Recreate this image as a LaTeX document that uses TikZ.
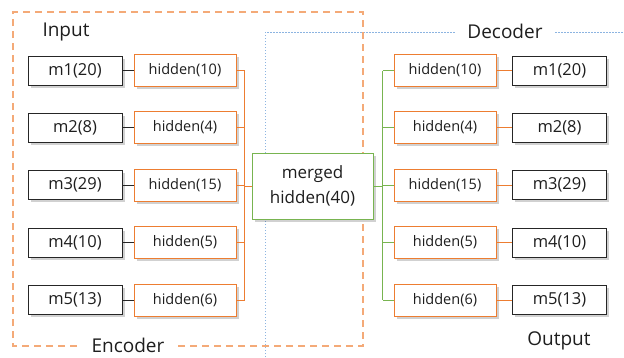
\documentclass[tikz,border=0pt]{standalone}
\usepackage{fontspec}
\setmainfont{Open Sans}
\usetikzlibrary{shadows}
\definecolor{ora}{RGB}{237,125,49}
\definecolor{lora}{RGB}{244,170,120}
\definecolor{grn}{RGB}{120,180,80}
\definecolor{lblu}{RGB}{140,180,225}
\definecolor{txt}{RGB}{30,30,30}
\tikzset{
  shad/.style={drop shadow={shadow xshift=2.5pt,shadow yshift=-2.5pt,fill=black,opacity=0.18}},
  mbox/.style={draw=black!85,line width=1pt,fill=white,minimum width=94pt,minimum height=29pt,inner sep=0pt,shad,font=\fontsize{16.5}{18}\selectfont,text=txt},
  hbox/.style={draw=ora,line width=1pt,fill=white,minimum width=102pt,minimum height=32pt,inner sep=0pt,shad,font=\fontsize{14.5}{16}\selectfont,text=txt},
  gbox/.style={draw=grn,line width=1pt,fill=white,minimum width=121pt,minimum height=66pt,inner sep=0pt,shad,align=center,font=\fontsize{17}{25}\selectfont,text=txt},
  lbl/.style={font=\fontsize{19}{22}\selectfont,text=txt,inner sep=0pt},
  eline/.style={ora,line width=1pt},
  dline/.style={grn,line width=1pt},
  kline/.style={black!85,line width=1pt}
}
\begin{document}
\begin{tikzpicture}[x=1pt,y=-1pt]
\useasboundingbox (0,0) rectangle (624,357);
% decoder blue dotted frame
\draw[lblu,line width=1pt,dash pattern=on 1.5pt off 1.5pt] (265,357) -- (265,32) -- (455,32);
\draw[lblu,line width=1pt,dash pattern=on 1.5pt off 1.5pt] (555,32) -- (624,32);
\node[lbl] (dec) at (505,31) {Decoder};
% encoder dashed frame
\draw[lora,line width=1.3pt,dash pattern=on 7pt off 5pt] (77,346) -- (13,346) -- (13,12) -- (363,12) -- (363,346) -- (177,346);
\node[lbl] (enc) at (128,345) {Encoder};
\node[lbl] (inp) at (66,32) {Input};
\node[lbl] (outp) at (559,341) {Output};
% merged
\node[gbox] (mg) at (312.5,186) {merged\\hidden(40)};
% rows
\foreach \i/\y/\m/\h in {1/70.5/m1(20)/hidden(10),2/127.5/m2(8)/hidden(4),3/185/m3(29)/hidden(15),4/242.5/m4(10)/hidden(5),5/300/m5(13)/hidden(6)}{
  \node[mbox] (lm\i) at (75,\y) {\m};
  \node[hbox] (lh\i) at (185,\y) {\h};
  \node[hbox] (rh\i) at (445,\y) {\h};
  \node[mbox] (rm\i) at (559.5,\y) {\m};
  \draw[kline] (lm\i) -- (lh\i);
  \draw[eline] (rh\i) -- (rm\i);
  \draw[eline] (lh\i.east) -- ++(8,0) coordinate (lb\i);
  \draw[dline] (rh\i.west) -- ++(-11,0) coordinate (rb\i);
}
\draw[eline] (lb1) -- (lb5);
\draw[dline] (rb1) -- (rb5);
\draw[eline] (lb3 |- mg.west) -- (mg.west);
\draw[dline] (mg.east) -- (rb3 |- mg.east);
\end{tikzpicture}
\end{document}
